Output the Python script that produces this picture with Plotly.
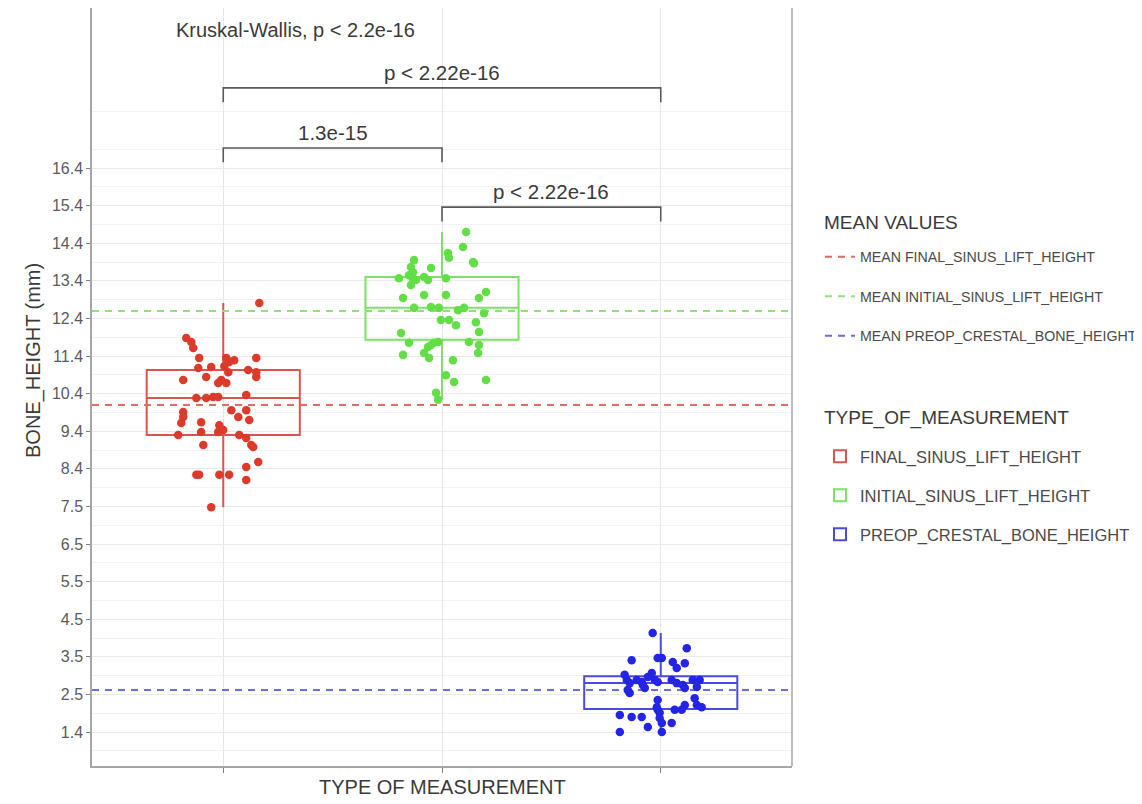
import plotly.graph_objects as go

# ---------------- data ----------------
groups = ["FINAL_SINUS_LIFT_HEIGHT", "INITIAL_SINUS_LIFT_HEIGHT", "PREOP_CRESTAL_BONE_HEIGHT"]
mean_names = ["MEAN FINAL_SINUS_LIFT_HEIGHT", "MEAN INITIAL_SINUS_LIFT_HEIGHT", "MEAN PREOP_CRESTAL_BONE_HEIGHT"]

y_tick_labels = ["1.4", "2.5", "3.5", "4.5", "5.5", "6.5", "7.5", "8.4", "9.4",
                 "10.4", "11.4", "12.4", "13.4", "14.4", "15.4", "16.4"]

red_y = [12.81, 11.88, 11.77, 11.61, 11.35, 11.08, 11.11, 10.84, 10.76, 11.35,
         11.24, 11.29, 11.13, 10.97, 10.76, 10.68, 10.68, 11.35, 11.03, 10.97,
         10.84, 10.28, 10.28, 10.31, 10.31, 10.36, 9.91, 9.78, 9.62, 9.96,
         9.78, 9.96, 9.70, 9.64, 9.38, 9.30, 9.56, 9.43, 9.38, 9.30,
         9.22, 9.03, 8.98, 9.03, 8.58, 8.45, 8.24, 8.24, 8.24, 8.24,
         8.10, 7.38]
red_jitter = [0.165, -0.169, -0.146, -0.137, -0.110, -0.114, -0.055, -0.078, -0.183, 0.014,
              0.027, 0.050, 0.005, 0.023, -0.009, 0.014, -0.023, 0.151, 0.114, 0.151,
              0.151, -0.123, -0.078, -0.046, -0.023, 0.105, -0.183, -0.183, -0.192, 0.037,
              0.069, 0.105, 0.119, -0.101, -0.101, -0.206, -0.018, 0.000, -0.023, 0.073,
              0.105, 0.128, 0.137, -0.091, 0.160, 0.105, -0.123, -0.110, -0.018, 0.027,
              0.105, -0.055]

green_y = [14.70, 14.30, 14.14, 14.01, 13.90, 13.87, 13.95, 13.77, 13.63, 13.55,
           13.47, 13.42, 13.74, 13.47, 13.42, 13.50, 13.47, 13.29, 13.10, 12.94,
           12.94, 13.02, 13.02, 12.68, 12.70, 12.68, 12.62, 12.68, 12.54, 12.36,
           12.36, 12.22, 12.30, 12.01, 12.04, 11.75, 11.64, 11.69, 11.75, 11.77,
           11.77, 11.69, 11.48, 11.43, 11.48, 11.35, 11.29, 10.89, 10.71, 10.76,
           10.42, 10.24]
green_jitter = [0.110, 0.096, 0.027, 0.032, 0.142, 0.146, -0.128, -0.142, -0.133, -0.151,
                -0.133, -0.119, -0.050, -0.197, -0.064, -0.082, 0.018, -0.142, 0.201, 0.169,
                -0.178, -0.082, 0.018, -0.128, -0.050, -0.014, 0.073, 0.101, 0.192, -0.005,
                0.032, 0.064, 0.155, -0.187, 0.169, -0.151, -0.064, -0.050, -0.037, -0.018,
                0.123, 0.169, 0.165, -0.178, -0.082, -0.059, 0.050, 0.018, 0.055, 0.201,
                -0.027, -0.018]

blue_y = [4.03, 3.63, 3.31, 3.37, 3.37, 3.26, 3.10, 3.23, 2.92, 2.78,
          2.70, 2.52, 2.44, 2.78, 2.73, 2.65, 2.86, 2.97, 2.78, 2.73,
          2.78, 2.70, 2.65, 2.57, 2.78, 2.78, 2.60, 2.57, 2.25, 2.06,
          1.99, 1.91, 2.30, 2.12, 2.06, 2.12, 1.99, 1.99, 1.85, 1.80,
          1.80, 1.77, 1.64, 1.64, 1.40, 1.53, 1.40]
blue_jitter = [-0.037, 0.119, -0.133, -0.014, 0.005, 0.055, 0.073, 0.110, -0.165, -0.155,
               -0.142, -0.151, -0.142, -0.110, -0.087, -0.082, -0.059, -0.041, -0.027, -0.014,
               0.050, 0.073, 0.101, 0.110, 0.146, 0.178, 0.165, -0.073, -0.014, -0.018,
               -0.014, -0.005, 0.155, 0.165, 0.187, 0.110, 0.096, 0.064, -0.187, -0.133,
               -0.087, -0.005, 0.005, 0.050, -0.187, -0.059, 0.005]

box_q1 = [9.30, 11.83, 2.01]
box_median = [10.28, 12.68, 2.70]
box_q3 = [11.03, 13.50, 2.88]
box_lower = [7.38, 10.24, 1.40]
box_upper = [12.81, 14.70, 4.03]

mean_values = [10.10, 12.60, 2.52]

comparisons = [(1, 3, "p < 2.22e-16"), (1, 2, "1.3e-15"), (2, 3, "p < 2.22e-16")]
kruskal_label = "Kruskal-Wallis, p < 2.2e-16"

# ---------------- styling ----------------
FONT = "Liberation Sans, Arial, sans-serif"
TXT = "#3a3a3a"
point_colors = ["#DC3A2A", "#62DE46", "#2424E4"]
box_colors = ["#D95550", "#7BE266", "#4B4BE0"]
mean_colors = ["#E46A66", "#8EE27A", "#6C6CE6"]

points_y = [red_y, green_y, blue_y]
points_dx = [red_jitter, green_jitter, blue_jitter]

# page body has an 8px margin: the plot area spans screen x 92..792, y 8..766
PX_L, PX_R, PY_T, PY_B = 92, 792, 8, 766


def paper_x(px):
    return (px - PX_L) / (PX_R - PX_L)


def paper_y(py):
    return (PY_B - py) / (PY_B - PY_T)


fig = go.Figure()

# boxes
for i, g in enumerate(groups):
    fig.add_trace(go.Box(
        x=[i + 1], q1=[box_q1[i]], median=[box_median[i]], q3=[box_q3[i]],
        lowerfence=[box_lower[i]], upperfence=[box_upper[i]],
        width=0.7, whiskerwidth=0, boxpoints=False,
        line=dict(color=box_colors[i], width=2),
        fillcolor="rgba(255,255,255,0)",
        name=g, legend="legend2", legendgroup="b" + str(i),
        hoverinfo="skip",
    ))

# mean lines
for i, m in enumerate(mean_names):
    fig.add_trace(go.Scatter(
        x=[0.4, 3.6], y=[mean_values[i], mean_values[i]], mode="lines",
        line=dict(color=mean_colors[i], width=2, dash="7px,6px"),
        name=m, legend="legend", legendgroup="m" + str(i),
        hoverinfo="skip",
    ))

# jittered points
for i, g in enumerate(groups):
    xs = [i + 1 + d for d in points_dx[i]]
    fig.add_trace(go.Scatter(
        x=xs, y=points_y[i], mode="markers",
        marker=dict(color=point_colors[i], size=8.5, line=dict(width=0)),
        showlegend=False, hoverinfo="skip",
    ))

# comparison brackets
shapes = []
bracket_tops = [18.53, 16.93, 15.36]
bracket_drop = 0.38
annotations = []
for (a, b, lab), top in zip(comparisons, bracket_tops):
    shapes.append(dict(
        type="path", xref="x", yref="y",
        path=f"M {a},{top - bracket_drop} L {a},{top} L {b},{top} L {b},{top - bracket_drop}",
        line=dict(color="#595959", width=1.6),
    ))
    annotations.append(dict(
        x=(a + b) / 2, y=top + 0.42, xref="x", yref="y", text=lab, showarrow=False,
        font=dict(family=FONT, size=20.5, color=TXT), yanchor="middle",
    ))

annotations.append(dict(
    x=1.328, y=20.07, xref="x", yref="y", text=kruskal_label, showarrow=False,
    font=dict(family=FONT, size=20, color=TXT), yanchor="middle",
))

# axis titles
annotations.append(dict(
    x=paper_x(34), y=paper_y(361), xref="paper", yref="paper", text="BONE_HEIGHT (mm)",
    textangle=-90, showarrow=False, font=dict(family=FONT, size=20, color=TXT),
    xanchor="center", yanchor="middle",
))
annotations.append(dict(
    x=0.5, y=paper_y(787), xref="paper", yref="paper", text="TYPE OF MEASUREMENT",
    showarrow=False, font=dict(family=FONT, size=20, color=TXT),
    xanchor="center", yanchor="middle",
))

# legend titles
annotations.append(dict(
    x=paper_x(822), y=paper_y(222), xref="paper", yref="paper", text="MEAN VALUES",
    showarrow=False, font=dict(family=FONT, size=19, color=TXT),
    xanchor="left", yanchor="middle",
))
annotations.append(dict(
    x=paper_x(822), y=paper_y(418), xref="paper", yref="paper", text="TYPE_OF_MEASUREMENT",
    showarrow=False, font=dict(family=FONT, size=19, color=TXT),
    xanchor="left", yanchor="middle",
))

# right border of the panel
shapes.append(dict(type="line", xref="paper", yref="paper", x0=1, x1=1, y0=0, y1=1,
                   line=dict(color="#a6a6a6", width=1.5)))

n_ticks = len(y_tick_labels)
tick_vals = [1.4 + k for k in range(n_ticks)]
minor_vals = [0.9 + k for k in range(n_ticks + 2)]
y_per_px = 1 / 37.6
y_range = [1.4 - (PY_B - 732) * y_per_px, 1.4 + (732 - PY_T) * y_per_px]

fig.update_layout(
    width=1134, height=796,
    margin=dict(l=PX_L - 8, r=1142 - PX_R, t=0, b=804 - PY_B, autoexpand=False),
    paper_bgcolor="white", plot_bgcolor="white",
    font=dict(family=FONT, color=TXT),
    xaxis=dict(
        range=[0.4, 3.6], tickvals=[1, 2, 3], ticktext=["", "", ""],
        ticks="outside", ticklen=5, tickcolor="#7f7f7f",
        showline=True, linecolor="#a6a6a6", linewidth=1.5,
        showgrid=True, gridcolor="#e6e6e6", gridwidth=1, zeroline=False,
    ),
    yaxis=dict(
        range=y_range, tickmode="array", tickvals=tick_vals, ticktext=y_tick_labels,
        ticks="outside", ticklen=4, tickcolor="#7f7f7f",
        tickfont=dict(family=FONT, size=16, color="#5a5a5a"),
        showline=True, linecolor="#a6a6a6", linewidth=1.5,
        showgrid=True, gridcolor="#e9e9e9", gridwidth=1.2, zeroline=False,
        minor=dict(tickmode="array", tickvals=minor_vals, showgrid=True,
                   gridcolor="#f2f2f2", gridwidth=1.2, ticks=""),
    ),
    showlegend=True,
    legend=dict(
        x=1.04, y=paper_y(241), xanchor="left", yanchor="top",
        font=dict(family=FONT, size=14.2, color="#4a4a4a"),
        tracegroupgap=18, bgcolor="rgba(0,0,0,0)", itemwidth=30,
    ),
    legend2=dict(
        x=1.04, y=paper_y(439), xanchor="left", yanchor="top",
        font=dict(family=FONT, size=16.5, color="#4a4a4a"),
        tracegroupgap=14.5, bgcolor="rgba(0,0,0,0)", itemwidth=30,
    ),
    shapes=shapes,
    annotations=annotations,
)

fig.write_html("out.html", config={"displayModeBar": False})
